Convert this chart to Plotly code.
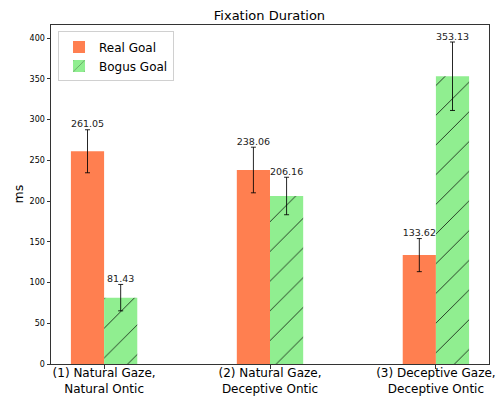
import plotly.graph_objects as go

categories = ["(1) Natural Gaze,<br>Natural Ontic",
              "(2) Natural Gaze,<br>Deceptive Ontic",
              "(3) Deceptive Gaze,<br>Deceptive Ontic"]
real_goal = [261.05, 238.06, 133.62]
real_err = [26.4, 28.0, 20.3]
bogus_goal = [81.43, 206.16, 353.13]
bogus_err = [16.2, 23.0, 42.0]
y_ticks = [0, 50, 100, 150, 200, 250, 300, 350, 400]

FONT = "DejaVu Sans"

fig = go.Figure()
fig.add_trace(go.Bar(
    name="Real Goal", x=categories, y=real_goal,
    marker=dict(color="#FF7F50", line=dict(width=0)),
    error_y=dict(type="data", array=real_err, color="rgba(0,0,0,0.85)", thickness=1, width=2.5),
    offsetgroup="real",
))
fig.add_trace(go.Bar(
    name="Bogus Goal", x=categories, y=bogus_goal,
    marker=dict(color="#90EE90", line=dict(width=0),
                pattern=dict(shape="/", fgcolor="black", fgopacity=1, bgcolor="#90EE90",
                             size=21, solidity=0.035)),
    error_y=dict(type="data", array=bogus_err, color="rgba(0,0,0,0.85)", thickness=1, width=2.5),
    offsetgroup="bogus",
))
fig.add_trace(go.Scatter(
    x=categories, y=[v + e for v, e in zip(real_goal, real_err)],
    text=[f"{v:.2f}" for v in real_goal], mode="text", textposition="top center",
    marker=dict(size=20),
    textfont=dict(family=FONT, size=9.5, color="#222"), showlegend=False, hoverinfo="skip",
    offsetgroup="real",
))
fig.add_trace(go.Scatter(
    x=categories, y=[v + e for v, e in zip(bogus_goal, bogus_err)],
    text=[f"{v:.2f}" for v in bogus_goal], mode="text", textposition="top center",
    marker=dict(size=20),
    textfont=dict(family=FONT, size=9.5, color="#222"), showlegend=False, hoverinfo="skip",
    offsetgroup="bogus",
))

fig.update_layout(
    width=499, height=400,
    barmode="group", bargap=0.6, bargroupgap=0,
    scattermode="group", scattergap=0.6,
    margin=dict(l=51, r=10, t=25, b=36, autoexpand=False),
    paper_bgcolor="white", plot_bgcolor="white",
    font=dict(family=FONT, color="black"),
    title=dict(text="Fixation Duration", x=0.54, xanchor="center", y=0.962, yanchor="middle",
               font=dict(size=13, family=FONT, color="black")),
    legend=dict(x=0.016, y=0.981, xanchor="left", yanchor="top",
                bgcolor="white", bordercolor="#d0d0d0", borderwidth=1,
                font=dict(size=12, family=FONT), tracegroupgap=0),
    showlegend=True,
    annotations=[dict(text="ms", textangle=-90, xref="paper", yref="paper",
                      x=-0.0753, y=0.5, xanchor="center", yanchor="middle", showarrow=False,
                      font=dict(size=12.5, family=FONT, color="black"))],
)
fig.update_xaxes(
    range=[-0.32, 2.32], showline=True, mirror=True, linecolor="#333", linewidth=1,
    ticks="outside", ticklen=3.5, tickcolor="#333", showgrid=False, automargin=False,
    ticklabelstandoff=-6,
    tickfont=dict(size=12, family=FONT, color="black"),
)
fig.update_yaxes(
    range=[0, 416], tickvals=y_ticks, showline=True, mirror=True, linecolor="#333", linewidth=1,
    ticks="outside", ticklen=3.5, tickcolor="#333", showgrid=False, zeroline=False, automargin=False,
    tickfont=dict(size=8, family=FONT, color="black"),
)

fig.write_html("out.html", config={"displayModeBar": False},
               post_script="document.body.style.margin='0';document.body.style.padding='0';")
